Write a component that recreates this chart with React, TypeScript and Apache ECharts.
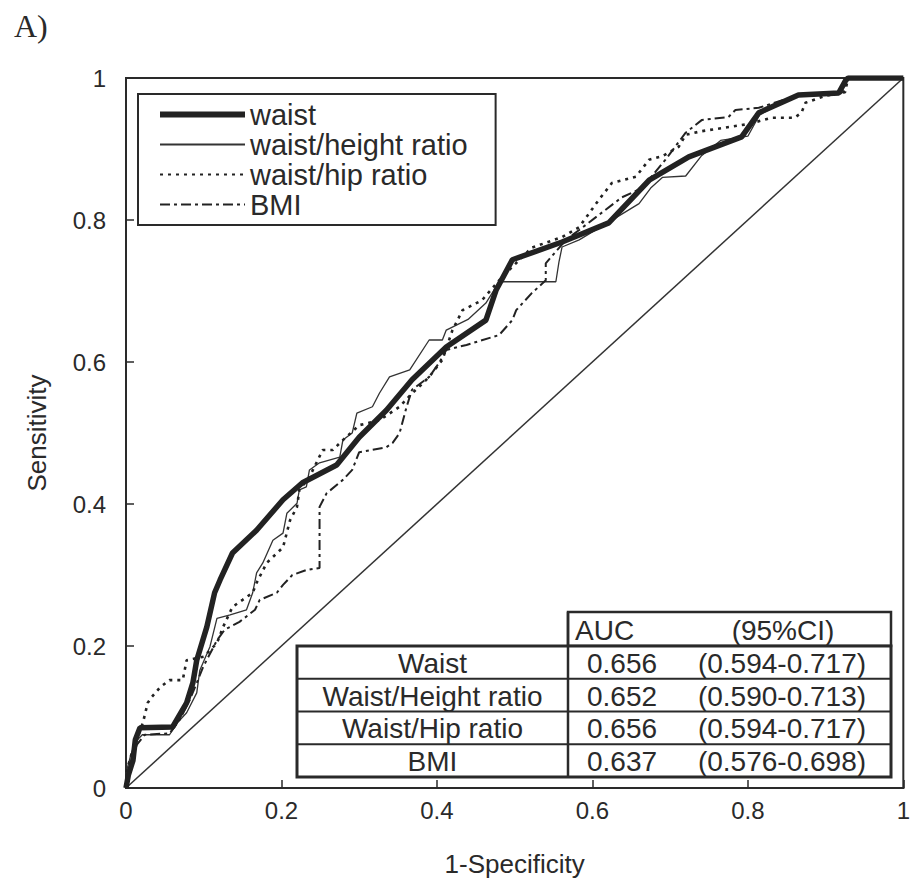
import React, { useEffect, useRef } from "react";
import * as echarts from "echarts";

// ROC curves: [1-specificity, sensitivity]
const waist: number[][] = [
  [0, 0], [0.003, 0.018], [0.009, 0.039], [0.012, 0.068], [0.018, 0.085], [0.06, 0.086],
  [0.078, 0.12], [0.086, 0.148], [0.091, 0.18], [0.104, 0.227], [0.114, 0.275], [0.121, 0.293],
  [0.137, 0.331], [0.168, 0.363], [0.202, 0.406], [0.227, 0.43], [0.271, 0.455], [0.3, 0.494],
  [0.335, 0.532], [0.368, 0.575], [0.412, 0.621], [0.463, 0.659], [0.476, 0.701], [0.497, 0.744],
  [0.561, 0.769], [0.621, 0.796], [0.673, 0.856], [0.724, 0.889], [0.792, 0.917], [0.814, 0.951],
  [0.865, 0.976], [0.917, 0.979], [0.926, 0.997], [0.929, 1], [1, 1],
];

const waistHeight: number[][] = [
  [0, 0], [0.001, 0.025], [0.006, 0.046], [0.012, 0.065], [0.021, 0.075], [0.056, 0.075],
  [0.067, 0.093], [0.078, 0.106], [0.091, 0.134], [0.095, 0.166], [0.108, 0.199], [0.117, 0.239],
  [0.134, 0.244], [0.155, 0.251], [0.163, 0.275], [0.168, 0.303], [0.176, 0.317], [0.189, 0.349],
  [0.202, 0.359], [0.207, 0.387], [0.22, 0.401], [0.223, 0.42], [0.232, 0.424], [0.236, 0.448],
  [0.249, 0.458], [0.275, 0.466], [0.279, 0.49], [0.291, 0.5], [0.297, 0.528], [0.317, 0.537],
  [0.326, 0.556], [0.339, 0.579], [0.365, 0.589], [0.39, 0.631], [0.407, 0.631], [0.412, 0.645],
  [0.44, 0.66], [0.463, 0.683], [0.48, 0.713], [0.553, 0.713], [0.557, 0.741], [0.561, 0.762],
  [0.583, 0.772], [0.621, 0.797], [0.66, 0.823], [0.675, 0.845], [0.69, 0.86], [0.72, 0.862],
  [0.74, 0.89], [0.765, 0.912], [0.8, 0.918], [0.815, 0.948], [0.86, 0.975], [0.92, 0.978],
  [0.928, 1], [1, 1],
];

const waistHip: number[][] = [
  [0, 0], [0.001, 0.025], [0.008, 0.051], [0.014, 0.068], [0.022, 0.093], [0.028, 0.12],
  [0.033, 0.128], [0.044, 0.142], [0.056, 0.152], [0.073, 0.152], [0.078, 0.18], [0.1, 0.185],
  [0.117, 0.204], [0.125, 0.227], [0.137, 0.255], [0.15, 0.265], [0.163, 0.275], [0.168, 0.289],
  [0.181, 0.317], [0.202, 0.339], [0.211, 0.377], [0.22, 0.396], [0.223, 0.42], [0.236, 0.438],
  [0.253, 0.476], [0.266, 0.476], [0.279, 0.49], [0.3, 0.511], [0.326, 0.518], [0.352, 0.537],
  [0.368, 0.556], [0.377, 0.565], [0.39, 0.579], [0.407, 0.603], [0.42, 0.645], [0.433, 0.673],
  [0.458, 0.687], [0.484, 0.72], [0.522, 0.761], [0.561, 0.776], [0.583, 0.79], [0.608, 0.828],
  [0.625, 0.852], [0.656, 0.861], [0.673, 0.885], [0.69, 0.89], [0.711, 0.903], [0.72, 0.92],
  [0.74, 0.925], [0.8, 0.935], [0.831, 0.944], [0.86, 0.944], [0.869, 0.951], [0.874, 0.965],
  [0.9, 0.975], [0.925, 0.98], [0.929, 1], [1, 1],
];

const bmi: number[][] = [
  [0, 0], [0.003, 0.023], [0.008, 0.044], [0.014, 0.061], [0.024, 0.075], [0.056, 0.077],
  [0.069, 0.096], [0.082, 0.124], [0.091, 0.148], [0.099, 0.17], [0.117, 0.208], [0.127, 0.223],
  [0.146, 0.234], [0.166, 0.251], [0.172, 0.265], [0.194, 0.275], [0.202, 0.286], [0.214, 0.3],
  [0.232, 0.307], [0.249, 0.31], [0.249, 0.396], [0.258, 0.415], [0.279, 0.434], [0.291, 0.448],
  [0.3, 0.473], [0.335, 0.48], [0.343, 0.486], [0.352, 0.5], [0.361, 0.537], [0.368, 0.561],
  [0.39, 0.579], [0.403, 0.599], [0.412, 0.617], [0.438, 0.624], [0.48, 0.638], [0.497, 0.659],
  [0.502, 0.673], [0.522, 0.697], [0.54, 0.715], [0.54, 0.739], [0.566, 0.772], [0.583, 0.786],
  [0.638, 0.832], [0.664, 0.845], [0.694, 0.885], [0.72, 0.923], [0.741, 0.941], [0.775, 0.945],
  [0.784, 0.955], [0.814, 0.958], [0.865, 0.976], [0.923, 0.98], [0.929, 1], [1, 1],
];

const reference: number[][] = [[0, 0], [1, 1]];

const seriesNames = ["waist", "waist/height ratio", "waist/hip ratio", "BMI"];

const tableHeader = ["AUC", "(95%CI)"];
const tableNames = ["Waist", "Waist/Height ratio", "Waist/Hip ratio", "BMI"];
const tableAuc = ["0.656", "0.652", "0.656", "0.637"];
const tableCi = ["(0.594-0.717)", "(0.590-0.713)", "(0.594-0.717)", "(0.576-0.698)"];

const INK = "#2a2a2a";
const FONT = "'Liberation Sans', Arial, sans-serif";

function buildTable(): any[] {
  const left = 297;
  const mid = 568;
  const right = 891;
  const headTop = 612;
  const bodyTop = 646;
  const rowH = 32.75;
  const bodyBottom = bodyTop + rowH * tableNames.length;
  const els: any[] = [];
  const lineStyle = (w: number) => ({ stroke: INK, lineWidth: w });
  els.push({ type: "rect", shape: { x: mid, y: headTop, width: right - mid, height: bodyTop - headTop }, style: { fill: "#fff", stroke: INK, lineWidth: 2.5 }, z: 10 });
  els.push({ type: "rect", shape: { x: left, y: bodyTop, width: right - left, height: bodyBottom - bodyTop }, style: { fill: "#fff", stroke: INK, lineWidth: 3 }, z: 10 });
  for (let i = 1; i < tableNames.length; i++) {
    const y = bodyTop + rowH * i;
    els.push({ type: "line", shape: { x1: left, y1: y, x2: right, y2: y }, style: lineStyle(1.8), z: 11 });
  }
  els.push({ type: "line", shape: { x1: mid, y1: headTop, x2: mid, y2: bodyBottom }, style: lineStyle(2.5), z: 11 });
  const tStyle = (text: string, x: number, y: number, align: string) => ({
    type: "text", z: 12,
    style: { text, x, y, align, verticalAlign: "middle", font: `28px ${FONT}`, fill: INK },
  });
  els.push(tStyle(tableHeader[0], 575, headTop + 18, "left"));
  els.push(tStyle(tableHeader[1], 783, headTop + 18, "center"));
  for (let i = 0; i < tableNames.length; i++) {
    const cy = bodyTop + rowH * i + rowH / 2 + 1;
    els.push(tStyle(tableNames[i], (left + mid) / 2, cy, "center"));
    els.push(tStyle(tableAuc[i], 587, cy, "left"));
    els.push(tStyle(tableCi[i], 782, cy, "center"));
  }
  return els;
}

export default function App() {
  const ref = useRef<HTMLDivElement>(null);
  useEffect(() => {
    if (!ref.current) return;
    const chart = echarts.init(ref.current, undefined, { renderer: "svg" });
    const axisCommon = {
      type: "value" as const,
      min: 0,
      max: 1,
      interval: 0.2,
      splitLine: { show: false },
      axisLine: { show: true, lineStyle: { color: INK, width: 2 } },
      axisTick: { show: true, inside: true, length: 8, lineStyle: { color: INK, width: 1.5 } },
      axisLabel: { color: INK, fontSize: 24, fontFamily: FONT },
      nameTextStyle: { color: INK, fontSize: 26, fontFamily: FONT },
      nameLocation: "middle" as const,
    };
    chart.setOption({
      animation: false,
      backgroundColor: "#fff",
      grid: { left: 126, right: 8, top: 78, bottom: 96, show: true, borderColor: INK, borderWidth: 2 },
      xAxis: { ...axisCommon, name: "1-Specificity", nameGap: 63, axisLabel: { ...axisCommon.axisLabel, margin: 10 } },
      yAxis: { ...axisCommon, name: "Sensitivity", nameGap: 76, axisLabel: { ...axisCommon.axisLabel, margin: 20 } },
      legend: {
        data: [
          { name: seriesNames[0], lineStyle: { width: 6 } },
          { name: seriesNames[1] },
          { name: seriesNames[2] },
          { name: seriesNames[3] },
        ],
        orient: "vertical",
        left: 138,
        top: 94,
        padding: [6, 28, 6, 19],
        itemWidth: 85,
        itemHeight: 14,
        itemGap: 1,
        borderColor: INK,
        borderWidth: 2,
        backgroundColor: "#fff",
        itemStyle: { opacity: 0 },
        textStyle: { color: INK, fontSize: 29, fontFamily: FONT, lineHeight: 29 },
        z: 20,
      },
      series: [
        { name: seriesNames[0], type: "line", data: waist, showSymbol: false, symbol: "none", lineStyle: { color: "#222", width: 5.5 }, itemStyle: { color: "#222" }, z: 5 },
        { name: seriesNames[1], type: "line", data: waistHeight, showSymbol: false, symbol: "none", lineStyle: { color: "#333", width: 1.3 }, itemStyle: { color: "#333" }, z: 4 },
        { name: seriesNames[2], type: "line", data: waistHip, showSymbol: false, symbol: "none", lineStyle: { color: "#222", width: 2.6, type: [3, 5] }, itemStyle: { color: "#222" }, z: 4 },
        { name: seriesNames[3], type: "line", data: bmi, showSymbol: false, symbol: "none", lineStyle: { color: "#222", width: 2, type: [10, 4, 3, 4] }, itemStyle: { color: "#222" }, z: 4 },
        { name: "reference", type: "line", data: reference, showSymbol: false, symbol: "none", lineStyle: { color: "#333", width: 1.5 }, z: 3 },
      ],
      graphic: [
        { type: "text", left: 14, top: 10, style: { text: "A)", font: "32px 'Liberation Serif', 'Times New Roman', serif", fill: INK } },
        ...buildTable(),
      ],
    });
    return () => chart.dispose();
  }, []);
  return <div ref={ref} style={{ width: 913, height: 884, position: "absolute", left: 0, top: 0 }} />;
}
